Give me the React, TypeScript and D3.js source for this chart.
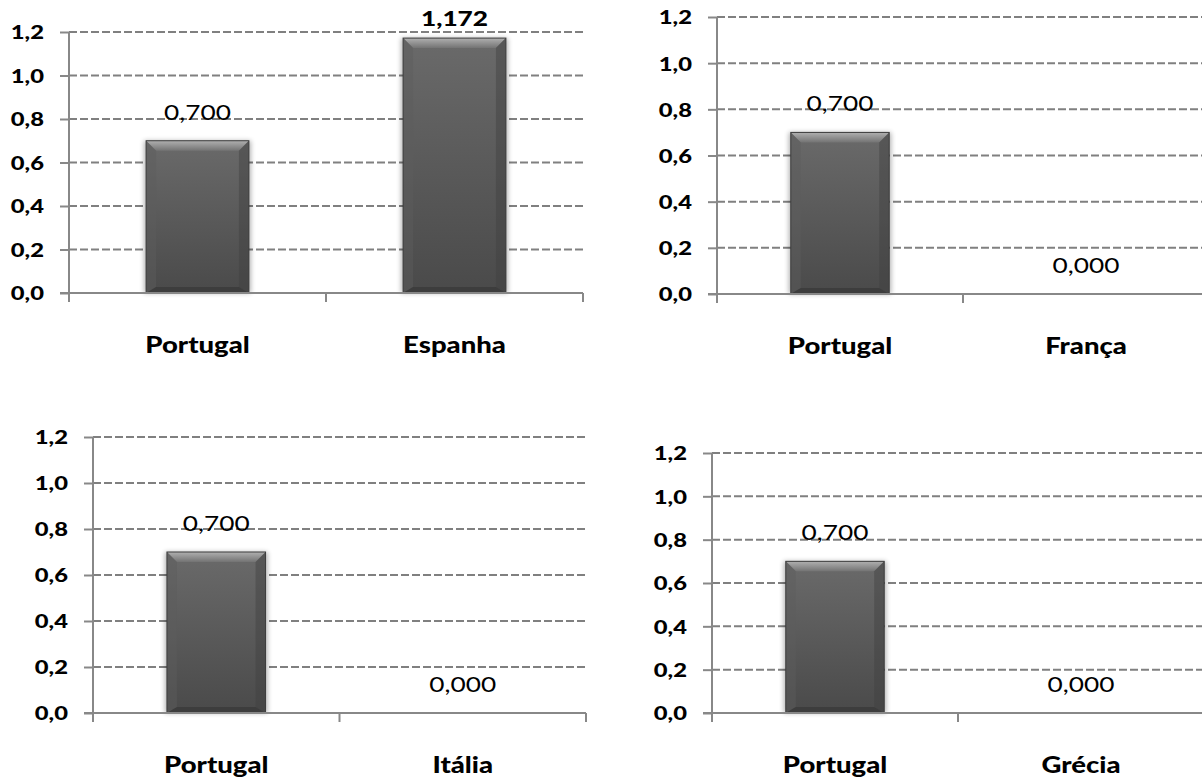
import { useEffect, useRef } from 'react'
import * as d3 from 'd3'

// four small comparison charts: Portugal vs. another country
const panelCategories = [
  ['Portugal', 'Espanha'],
  ['Portugal', 'França'],
  ['Portugal', 'Itália'],
  ['Portugal', 'Grécia'],
]
const panelValues = [
  [0.7, 1.172],
  [0.7, 0],
  [0.7, 0],
  [0.7, 0],
]
const yTicks = [0, 0.2, 0.4, 0.6, 0.8, 1.0, 1.2]
const yMax = 1.2

// plot frames in pixels (left axis, right end, 1.2 line, 0 line)
const frames = [
  { left: 69, right: 583, top: 32, bottom: 293 },
  { left: 717, right: 1209, top: 17, bottom: 294 },
  { left: 93, right: 586, top: 437, bottom: 713 },
  { left: 712, right: 1204, top: 453, bottom: 713 },
]

const W = 1202
const H = 778
const FONT = 'Lato, Carlito, Calibri, sans-serif'
const SX = 1.25 // the reference text is stretched horizontally
const AXIS = '#888'

const pt = d3.formatLocale({ decimal: ',', thousands: '.', grouping: [3], currency: ['€', ''] })
const fmtTick = pt.format('.1f')
const fmtVal = pt.format('.3f')

export default function App() {
  const ref = useRef<SVGSVGElement>(null)

  useEffect(() => {
    const el = ref.current
    if (!el) return
    const svg = d3.select(el)
    svg.selectAll('*').remove()

    const defs = svg.append('defs')
    const body = defs.append('linearGradient').attr('id', 'barBody').attr('x1', 0).attr('y1', 0).attr('x2', 0).attr('y2', 1)
    body.append('stop').attr('offset', '0%').attr('stop-color', '#6a6a6a')
    body.append('stop').attr('offset', '100%').attr('stop-color', '#4a4a4a')
    const topG = defs.append('linearGradient').attr('id', 'bevelTop').attr('x1', 0).attr('y1', 0).attr('x2', 0).attr('y2', 1)
    topG.append('stop').attr('offset', '0%').attr('stop-color', '#b0b0b0')
    topG.append('stop').attr('offset', '100%').attr('stop-color', '#737373')
    const shadow = defs.append('filter').attr('id', 'barShadow').attr('x', '-20%').attr('y', '-10%').attr('width', '140%').attr('height', '120%')
    shadow.append('feGaussianBlur').attr('stdDeviation', 2.5)

    frames.forEach((f, i) => {
      const cats = panelCategories[i]
      const vals = panelValues[i]
      const g = svg.append('g')

      const x = d3.scaleBand<string>().domain(cats).range([f.left, f.right]).paddingInner(0.6).paddingOuter(0.3)
      const xb = d3.scaleBand<string>().domain(cats).range([f.left, f.right])
      const y = d3.scaleLinear().domain([0, yMax]).range([f.bottom, f.top])

      // dashed gridlines
      g.selectAll('line.grid')
        .data(yTicks.filter((t) => t > 0))
        .join('line')
        .attr('class', 'grid')
        .attr('x1', f.left)
        .attr('x2', f.right)
        .attr('y1', (d) => y(d))
        .attr('y2', (d) => y(d))
        .attr('stroke', '#808080')
        .attr('stroke-width', 2)
        .attr('stroke-dasharray', '8,3')

      // y axis
      const ya = g
        .append('g')
        .attr('transform', `translate(${f.left},0)`)
        .call(d3.axisLeft(y).tickValues(yTicks).tickSize(9).tickPadding(0).tickFormat((d) => fmtTick(Number(d))))
      ya.select('.domain').remove()
      ya.selectAll('.tick line').attr('stroke', AXIS).attr('stroke-width', 2)
      ya.selectAll('.tick text')
        .attr('x', -25 / SX)
        .attr('dy', '0.36em')
        .attr('transform', `scale(${SX},1)`)
        .attr('fill', '#000')
        .attr('font-family', FONT)
        .attr('font-weight', 900)
        .attr('font-size', 19)
      g.append('line')
        .attr('x1', f.left)
        .attr('x2', f.left)
        .attr('y1', y(yMax))
        .attr('y2', f.bottom + 9)
        .attr('stroke', AXIS)
        .attr('stroke-width', 2)

      // bars
      const bars = g
        .selectAll('g.bar')
        .data(cats.map((c, j) => ({ c, v: vals[j] })).filter((d) => d.v > 0))
        .join('g')
        .attr('class', 'bar')
      bars.each(function (d) {
        const b = d3.select(this)
        const x0 = x(d.c) ?? 0
        const w = x.bandwidth()
        const y0 = y(d.v)
        const y1 = y(0)
        const bv = 10
        b.append('rect')
          .attr('x', x0 - 2)
          .attr('y', y0)
          .attr('width', w + 4)
          .attr('height', y1 - y0)
          .attr('fill', '#000')
          .attr('opacity', 0.3)
          .attr('filter', 'url(#barShadow)')
        b.append('rect').attr('x', x0).attr('y', y0).attr('width', w).attr('height', y1 - y0).attr('fill', 'url(#barBody)')
        const poly = (pts: number[][], fill: string, op = 1) =>
          b.append('polygon').attr('points', pts.map((p) => p.join(',')).join(' ')).attr('fill', fill).attr('opacity', op)
        poly([[x0, y0], [x0 + w, y0], [x0 + w - bv, y0 + bv], [x0 + bv, y0 + bv]], 'url(#bevelTop)')
        poly([[x0, y0], [x0 + bv, y0 + bv], [x0 + bv, y1 - 6], [x0, y1]], '#5e5e5e', 0.45)
        poly([[x0 + w, y0], [x0 + w - bv, y0 + bv], [x0 + w - bv, y1 - 6], [x0 + w, y1]], '#404040', 0.45)
        poly([[x0, y1], [x0 + bv, y1 - 6], [x0 + w - bv, y1 - 6], [x0 + w, y1]], '#3a3a3a', 0.8)
        b.append('rect')
          .attr('x', x0)
          .attr('y', y0)
          .attr('width', w)
          .attr('height', y1 - y0)
          .attr('fill', 'none')
          .attr('stroke', '#3c3c3c')
          .attr('stroke-width', 1)
      })

      // x axis line + boundary ticks
      g.append('line')
        .attr('x1', f.left - 9)
        .attr('x2', f.right)
        .attr('y1', y(0))
        .attr('y2', y(0))
        .attr('stroke', AXIS)
        .attr('stroke-width', 2)
      const bounds = [...cats.map((c) => xb(c) ?? 0), f.right]
      g.selectAll('line.bt')
        .data(bounds.slice(1))
        .join('line')
        .attr('class', 'bt')
        .attr('x1', (d) => d)
        .attr('x2', (d) => d)
        .attr('y1', y(0))
        .attr('y2', y(0) + 9)
        .attr('stroke', AXIS)
        .attr('stroke-width', 2)

      // category labels
      const xa = g
        .append('g')
        .attr('transform', `translate(0,${y(0) + 60})`)
        .call(d3.axisBottom(x).tickSize(0).tickPadding(0))
      xa.select('.domain').remove()
      xa.selectAll('.tick text')
        .attr('y', 0)
        .attr('dy', 0)
        .attr('transform', `scale(${SX},1)`)
        .attr('fill', '#000')
        .attr('font-family', FONT)
        .attr('font-weight', 900)
        .attr('font-size', 22)
      xa.selectAll('.tick').each(function () {
        const t = d3.select(this)
        const m = /translate\(([-\d.]+),/.exec(t.attr('transform') || '')
        const cx = m ? Number(m[1]) : 0
        t.attr('transform', `translate(${cx},0)`)
      })

      // value labels
      g.selectAll('g.val')
        .data(cats.map((c, j) => ({ c, v: vals[j] })))
        .join('g')
        .attr('class', 'val')
        .attr('transform', (d) => {
          const cx = (x(d.c) ?? 0) + x.bandwidth() / 2
          const by = Math.max(y(d.v) - 21, f.top - 6)
          return `translate(${cx},${by})`
        })
        .append('text')
        .attr('transform', `scale(${SX},1)`)
        .attr('text-anchor', 'middle')
        .attr('fill', '#000')
        .attr('font-family', FONT)
        .attr('font-size', 21)
        .attr('font-weight', (d) => (d.v > 1 ? 900 : 'normal'))
        .text((d) => fmtVal(d.v))
    })
  }, [])

  return (
    <svg
      ref={ref}
      width={W}
      height={H}
      style={{ position: 'absolute', left: 0, top: 0, background: '#fff' }}
    />
  )
}
